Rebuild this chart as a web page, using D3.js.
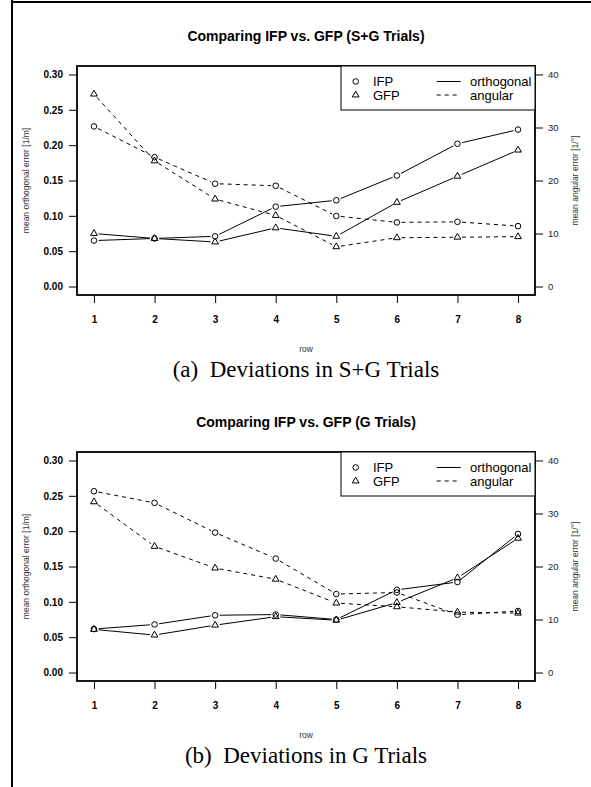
<!DOCTYPE html>
<html><head><meta charset="utf-8">
<script src="https://cdn.jsdelivr.net/npm/d3@7"></script>
<style>body{margin:0;background:#fff}svg{display:block}</style>
</head><body>
<svg id="c" width="591" height="787"></svg>
<script>
// ---- data ----
const rows = [1, 2, 3, 4, 5, 6, 7, 8];
// S+G trials
const sgIfpOrth = [0.065, 0.068, 0.071, 0.113, 0.122, 0.157, 0.202, 0.222];
const sgGfpOrth = [0.075, 0.068, 0.063, 0.083, 0.071, 0.119, 0.156, 0.193];
const sgIfpAng  = [30.2, 24.4, 19.4, 19.0, 13.3, 12.1, 12.2, 11.4];
const sgGfpAng  = [36.3, 23.7, 16.5, 13.4, 7.5, 9.2, 9.3, 9.4];
// G trials
const gIfpOrth = [0.0615, 0.068, 0.081, 0.082, 0.075, 0.117, 0.128, 0.196];
const gGfpOrth = [0.061, 0.053, 0.067, 0.079, 0.074, 0.099, 0.134, 0.190];
const gIfpAng  = [34.2, 32.0, 26.4, 21.5, 14.8, 15.1, 10.9, 11.6];
const gGfpAng  = [32.2, 23.8, 19.7, 17.6, 13.1, 12.4, 11.4, 11.2];
// ticks / labels
const yLeftTicks = [0, 0.05, 0.10, 0.15, 0.20, 0.25, 0.30];
const yRightTicks = [0, 10, 20, 30, 40];
const titles = ["Comparing IFP vs. GFP (S+G Trials)", "Comparing IFP vs. GFP (G Trials)"];
const captions = ["(a)\u2002Deviations in S+G Trials", "(b)\u2002Deviations in G Trials"];
const legendSeries = ["IFP", "GFP"];
const legendTypes = ["orthogonal", "angular"];
const yLeftLabel = "mean orthogonal error [1/m]";
const yRightLabel = "mean angular error [1/\u00B0]";
const xLabel = "row";

const SANS = "'Liberation Sans', Arial, Helvetica, sans-serif";
const SERIF = "'Liberation Serif', 'Times New Roman', serif";
const svg = d3.select("#c");
svg.append("rect").attr("width", 591).attr("height", 787).attr("fill", "#fff");

// outer frame (left and top)
svg.append("line").attr("x1", 12).attr("x2", 12).attr("y1", 0).attr("y2", 787)
  .attr("stroke", "#000").attr("stroke-width", 2);
svg.append("line").attr("x1", 11).attr("x2", 591).attr("y1", 2).attr("y2", 2)
  .attr("stroke", "#000").attr("stroke-width", 2);

const triPath = (r) => {
  const xc = r * 0.866, yc = r * 0.5;
  return `M0,${-r}L${xc},${yc}L${-xc},${yc}Z`;
};

function panel(dy, title, caption, ifpO, gfpO, ifpA, gfpA) {
  const L = 77, R = 535, T = 66 + dy, B = 295 + dy;
  const x = d3.scaleLinear().domain([0.72, 8.28]).range([L, R]);
  const yL = d3.scaleLinear().domain([-0.012, 0.312]).range([B, T]);
  const yR = d3.scaleLinear().domain([-1.6, 41.6]).range([B, T]);
  const g = svg.append("g");

  // title
  g.append("text").attr("x", 306).attr("y", 40.7 + dy).attr("text-anchor", "middle")
    .attr("font-family", SANS).attr("font-weight", "bold").attr("font-size", 14)
    .text(title);

  // axes
  const ax = g.append("g").attr("transform", `translate(${L},0)`)
    .call(d3.axisLeft(yL).tickValues(yLeftTicks).tickFormat(d3.format(".2f")).tickSize(8).tickPadding(6));
  ax.select(".domain").remove();
  ax.selectAll("text").attr("font-family", SANS).attr("font-weight", "bold").attr("font-size", 10).attr("fill", "#000");
  ax.selectAll("line").attr("stroke", "#000");

  const axr = g.append("g").attr("transform", `translate(${R},0)`)
    .call(d3.axisRight(yR).tickValues(yRightTicks).tickFormat(d3.format("d")).tickSize(8).tickPadding(5));
  axr.select(".domain").remove();
  axr.selectAll("text").attr("font-family", SANS).attr("font-size", 9.5).attr("fill", "#222");
  axr.selectAll("line").attr("stroke", "#000");

  const axb = g.append("g").attr("transform", `translate(0,${B})`)
    .call(d3.axisBottom(x).tickValues(rows).tickFormat(d3.format("d")).tickSize(8).tickPadding(12.4));
  axb.select(".domain").remove();
  axb.selectAll("text").attr("font-family", SANS).attr("font-weight", "bold").attr("font-size", 10).attr("fill", "#000");
  axb.selectAll("line").attr("stroke", "#000");

  // axis titles
  const midY = (T + B) / 2;
  g.append("text").attr("transform", `translate(29,${midY}) rotate(-90)`).attr("text-anchor", "middle")
    .attr("font-family", SANS).attr("font-size", 8.5).attr("fill", "#333").text(yLeftLabel);
  g.append("text").attr("transform", `translate(578,${midY}) rotate(-90)`).attr("text-anchor", "middle")
    .attr("font-family", SANS).attr("font-size", 8.5).attr("fill", "#333").text(yRightLabel);
  g.append("text").attr("x", 306).attr("y", 352 + dy).attr("text-anchor", "middle")
    .attr("font-family", SANS).attr("font-size", 8.5).attr("fill", "#333").text(xLabel);

  // caption
  g.append("text").attr("x", 306).attr("y", 377 + dy).attr("text-anchor", "middle")
    .attr("font-family", SERIF).attr("font-size", 23).attr("fill", "#000").text(caption);

  // series
  const series = [
    {vals: ifpO, y: yL, marker: "circle", dash: null},
    {vals: gfpO, y: yL, marker: "tri", dash: null},
    {vals: ifpA, y: yR, marker: "circle", dash: "4,4"},
    {vals: gfpA, y: yR, marker: "tri", dash: "4,4"}
  ];
  const gap = 4.6;
  series.forEach(s => {
    const pts = rows.map((r, i) => [x(r), s.y(s.vals[i])]);
    const segs = d3.pairs(pts).map(([a, b]) => {
      const dx = b[0] - a[0], dyy = b[1] - a[1];
      const len = Math.hypot(dx, dyy);
      const ux = dx / len, uy = dyy / len;
      return [[a[0] + ux * gap, a[1] + uy * gap], [b[0] - ux * gap, b[1] - uy * gap]];
    });
    g.append("g").selectAll("path").data(segs).join("path")
      .attr("d", d => d3.line()(d))
      .attr("fill", "none").attr("stroke", "#000").attr("stroke-width", 1)
      .attr("stroke-dasharray", s.dash);
    const mk = g.append("g").selectAll("g").data(pts).join("g")
      .attr("transform", d => `translate(${d[0]},${d[1]})`);
    if (s.marker === "circle") {
      mk.append("circle").attr("r", 2.8).attr("fill", "none").attr("stroke", "#000").attr("stroke-width", 1);
    } else {
      mk.append("path").attr("d", triPath(3.9)).attr("fill", "none").attr("stroke", "#000").attr("stroke-width", 1);
    }
  });

  // plot box
  g.append("rect").attr("x", L).attr("y", T).attr("width", R - L).attr("height", B - T)
    .attr("fill", "none").attr("stroke", "#000").attr("stroke-width", 1.8);

  // legend
  const lg = g.append("g");
  lg.append("rect").attr("x", 341).attr("y", T).attr("width", R - 341).attr("height", 44)
    .attr("fill", "#fff").attr("stroke", "#000").attr("stroke-width", 1);
  const rowsY = [T + 15.5, T + 29];
  lg.append("circle").attr("cx", 355.7).attr("cy", rowsY[0]).attr("r", 2.8)
    .attr("fill", "none").attr("stroke", "#000");
  lg.append("path").attr("transform", `translate(355.7,${rowsY[1]})`).attr("d", triPath(3.9))
    .attr("fill", "none").attr("stroke", "#000");
  legendSeries.forEach((t, i) => lg.append("text").attr("x", 373).attr("y", rowsY[i] + 4.6)
    .attr("font-family", SANS).attr("font-size", 13).text(t));
  legendTypes.forEach((t, i) => {
    lg.append("line").attr("x1", 436.7).attr("x2", 460.7).attr("y1", rowsY[i]).attr("y2", rowsY[i])
      .attr("stroke", "#000").attr("stroke-width", 1).attr("stroke-dasharray", i ? "4,4" : null);
    lg.append("text").attr("x", 470).attr("y", rowsY[i] + 4.6)
      .attr("font-family", SANS).attr("font-size", 13).text(t);
  });
}

panel(0, titles[0], captions[0], sgIfpOrth, sgGfpOrth, sgIfpAng, sgGfpAng);
panel(386, titles[1], captions[1], gIfpOrth, gGfpOrth, gIfpAng, gGfpAng);
</script>
</body></html>
